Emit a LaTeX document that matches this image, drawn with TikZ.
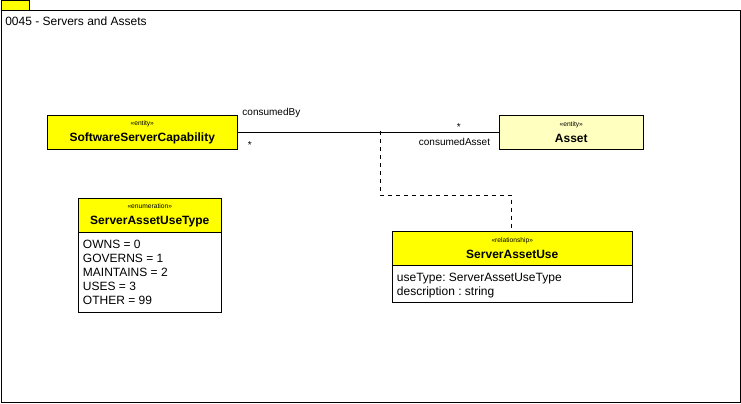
\documentclass[tikz,border=0pt]{standalone}
\usepackage{fontspec}
\setmainfont{Liberation Sans}
\usetikzlibrary{positioning}
\definecolor{umlyellow}{HTML}{FFFF00}
\definecolor{paleyellow}{HTML}{FFFFC0}
\tikzset{
  classhead/.style={rectangle, draw, fill=umlyellow, anchor=north west, inner sep=0pt,
                    minimum height=25.5pt, align=center, font=\fontsize{9}{10}\selectfont\bfseries},
  classbody/.style={rectangle, draw, fill=white, anchor=north west, inner sep=0pt},
  attrtext/.style={anchor=north west, inner xsep=3.5pt, inner ysep=5.6pt,
                   align=left, font=\fontsize{9}{10.5}\selectfont},
  rolelabel/.style={font=\fontsize{7.5}{8}\selectfont, inner sep=1.5pt},
}
\newcommand{\stype}[1]{{\fontsize{5}{5}\selectfont\mdseries\guillemotleft #1\guillemotright}\\[2pt]}
\frenchspacing

\begin{document}
\begin{tikzpicture}[x=0.75pt, y=-0.75pt]
  \useasboundingbox (0,0) rectangle (741,403);
  % package frame with tab
  \draw[fill=umlyellow] (1,0.5) rectangle (29,10);
  \draw (1,10) rectangle (740,402);
  \node[anchor=west, inner sep=0pt, font=\fontsize{9}{10}\selectfont] (title) at (5,21.5) {0045 - Servers and Assets};

  % entities
  \node[classhead, minimum width=142.5pt] (ssc) at (47,115) {\stype{entity}SoftwareServerCapability};
  \node[classhead, fill=paleyellow, minimum width=108pt] (asset) at (499,115) {\stype{entity}Asset};

  % enumeration
  \node[classhead, minimum width=107.25pt] (sautHead) at (78,198) {\stype{enumeration}ServerAssetUseType};
  \node[classbody, minimum width=107.25pt, minimum height=60pt] (sautBody) at (78,232) {};
  \node[attrtext] (sautAttrs) at (sautBody.north west)
    {OWNS = 0\\GOVERNS = 1\\MAINTAINS = 2\\USES = 3\\OTHER = 99};

  % relationship
  \node[classhead, minimum width=180pt] (sauHead) at (392,231) {\stype{relationship}ServerAssetUse};
  \node[classbody, minimum width=180pt, minimum height=27.75pt] (sauBody) at (392,265) {};
  \node[attrtext] (sauAttrs) at (sauBody.north west)
    {useType: ServerAssetUseType\\description : string};

  % association
  \draw (ssc.east) -- (asset.west)
    node[rolelabel, pos=0, anchor=south west, xshift=2pt, yshift=9pt] {consumedBy}
    node[rolelabel, pos=0, anchor=north west, xshift=6pt, yshift=-5pt] {*}
    node[rolelabel, pos=1, anchor=south east, xshift=-27pt] {*}
    node[rolelabel, pos=1, anchor=north east, xshift=-5pt, yshift=-2.5pt] {consumedAsset};
  \coordinate (assocMid) at (380,131);
  \coordinate (elbow) at (511.5,195);
  \draw[dashed] (assocMid) |- (elbow) -- (sauHead.north -| elbow);
\end{tikzpicture}
\end{document}
